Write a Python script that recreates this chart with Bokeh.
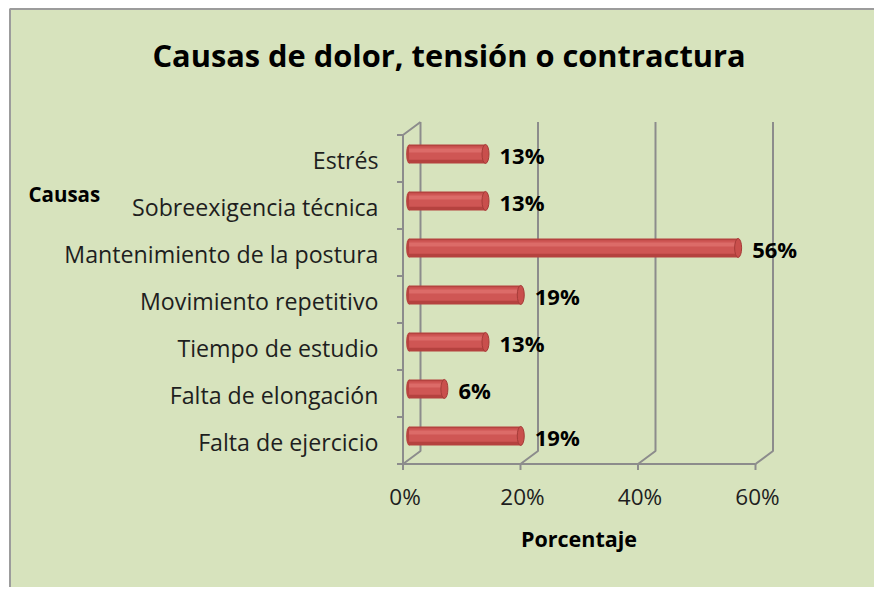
from bokeh.plotting import figure
from bokeh.models import Range1d, ColumnDataSource
from bokeh.core.properties import value
from bokeh.embed import file_html
from bokeh.resources import INLINE

# ---- data ----
title_text = "Causas de dolor, tensión o contractura"
categories = ["Falta de ejercicio", "Falta de elongación", "Tiempo de estudio",
              "Movimiento repetitivo", "Mantenimiento de la postura",
              "Sobreexigencia técnica", "Estrés"]
percent = [19, 6, 13, 19, 56, 13, 13]
x_ticks = [0, 20, 40, 60]
x_tick_labels = ["0%", "20%", "40%", "60%"]
y_axis_title = "Causas"
x_axis_title = "Porcentaje"

# ---- scale set-up (pixels of the canvas -> data units) ----
W, H = 874, 587
PX_X = 5.875            # px per percent
PX_Y = 47.0             # px per category slot
OX, OY = 402.5, 463.5   # canvas position of (0%, first category bottom)
def X(px): return (px - OX) / PX_X
def Y(py): return (OY - py) / PX_Y

DX = 17.5 / PX_X        # 3-D depth offset
DY = 13.0 / PX_Y
F = 0.35                # depth position of the bars
n = len(categories)
xmax = x_ticks[-1]

FONT = "Open Sans"
BG = "#D7E3BD"
GRID = "#8C8C8C"
TXT = "#1E1E1E"

p = figure(width=W, height=H, output_backend="svg", toolbar_location=None,
           x_range=Range1d(X(0), X(W)), y_range=Range1d(Y(H), Y(0)),
           x_axis_location=None, y_axis_location=None, title_location=None,
           min_border=0)
p.background_fill_color = "white"
p.border_fill_color = "white"
p.outline_line_color = None
p.grid.visible = False

# chart area + border
p.quad(left=[X(9.5)], right=[X(W + 20)], bottom=[Y(H + 20)], top=[Y(8.5)],
       fill_color=BG, line_color=None)
p.multi_line([[X(9.5), X(9.5), X(W + 20)]], [[Y(H + 20), Y(8.5), Y(8.5)]],
             line_color="#9C9C9C", line_width=2)

# 3D frame lines
xs, ys = [], []
for t in x_ticks:
    xs.append([t, t + DX, t + DX]); ys.append([0, DY, n + DY])   # slant + back gridline
    xs.append([t, t]); ys.append([0, -6 / PX_Y])                   # tick
xs.append([0, xmax]); ys.append([0, 0])                            # front bottom
xs.append([0, 0, DX]); ys.append([0, n, n + DY])                   # front left + top slant
for k in range(n + 1):
    xs.append([-6 / PX_X, 0]); ys.append([k, k])                   # left ticks
p.multi_line(xs, ys, line_color=GRID, line_width=2)

# category labels
ycent = [i + 0.5 for i in range(n)]
p.text(x=[X(378)] * n, y=ycent, text=categories, y_offset=1,
       text_font=value(FONT), text_font_size="23.2px", text_color=TXT,
       text_align="right", text_baseline="middle")

# x tick labels
p.text(x=x_ticks, y=[Y(497)] * len(x_ticks), text=x_tick_labels, x_offset=2, y_offset=-1,
       text_font=value(FONT), text_font_size="22.5px", text_color=TXT,
       text_align="center", text_baseline="middle")

# bars (cylinders)
yc = [c + F * DY for c in ycent]
left = [F * DX] * n
right = [v + F * DX for v in percent]
bh = 19 / PX_Y
src = ColumnDataSource(dict(y=yc, left=left, right=right,
                            lab=[f"{v}%" for v in percent]))
p.ellipse(x="left", y="y", width=6 / PX_X, height=bh, source=src,
          fill_color="#B8433F", line_color=None)
p.hbar(y="y", left="left", right="right", height=bh, source=src,
       fill_color="#B5423F", line_color=None)
p.hbar(y=[v + bh * 0.05 for v in yc], left=left, right=right, height=bh * 0.72,
       fill_color="#CF5654", line_color=None)
p.hbar(y=[v + bh * 0.18 for v in yc], left=left, right=right, height=bh * 0.22,
       fill_color="#DC6B68", line_color=None)
p.ellipse(x="right", y="y", width=7 / PX_X, height=bh, source=src,
          fill_color="#C94F4C", line_color="#A53B38", line_width=1)

# value labels
p.text(x="right", y="y", text="lab", source=src, x_offset=14, y_offset=1,
       text_font=value(FONT), text_font_style="bold", text_font_size="22px",
       text_baseline="middle", text_align="left", text_color="#000000")

# titles
p.text(x=[X(448.5)], y=[Y(54)], text=[title_text],
       text_font=value(FONT), text_font_style="bold", text_font_size="30.8px",
       text_align="center", text_baseline="middle", text_color="#000000")
p.text(x=[X(28)], y=[Y(193)], text=[y_axis_title],
       text_font=value(FONT), text_font_style="bold", text_font_size="20.5px",
       text_align="left", text_baseline="middle", text_color="#000000")
p.text(x=[X(578.5)], y=[Y(538)], text=[x_axis_title],
       text_font=value(FONT), text_font_style="bold", text_font_size="21.5px",
       text_align="center", text_baseline="middle", text_color="#000000")

open("out.html", "w").write(file_html(p, INLINE))
